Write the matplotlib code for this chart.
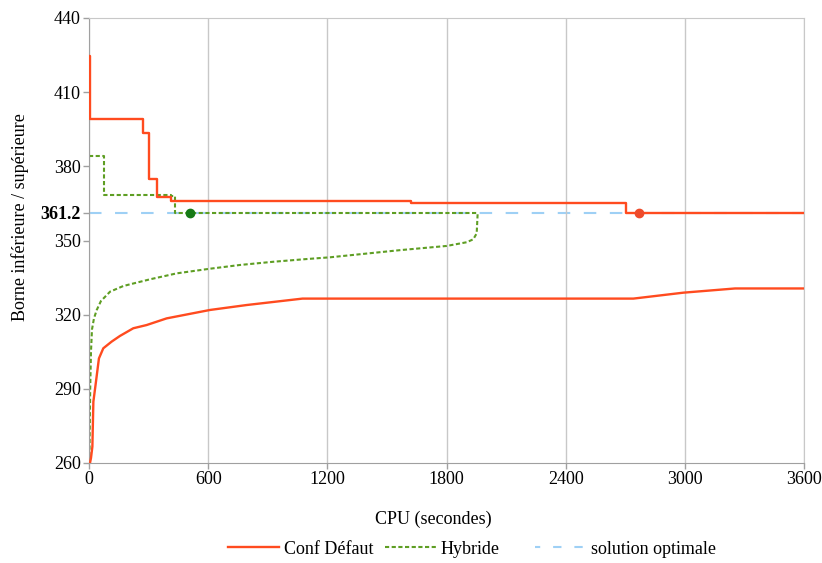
import matplotlib.pyplot as plt
from matplotlib.lines import Line2D

plt.rcParams['font.family'] = ['Liberation Serif', 'DejaVu Serif']

# ----------------------------
# DATA
# ----------------------------
OPT = 361.2

# Conf Défaut : borne supérieure (escalier) et borne inférieure
defaut_ub_t = [0, 3, 272, 302, 344, 413, 1621, 2704, 3600]
defaut_ub_v = [424.6, 399.1, 393.5, 374.9, 367.5, 365.8, 365.2, 361.2, 361.2]
defaut_lb_t = [5, 10, 17, 22, 34, 50, 72, 114, 156, 223, 290, 391, 609, 794,
               1075, 2741, 2993, 3253, 3600]
defaut_lb_v = [260, 262, 266.6, 284.8, 292.2, 302.3, 306.4, 309.1, 311.4, 314.5,
               315.8, 318.5, 321.9, 323.9, 326.5, 326.5, 328.9, 330.6, 330.6]
defaut_opt_t = 2770

# Hybride
hybride_ub_t = [0, 75, 411, 433, 1957]
hybride_ub_v = [384.3, 368.4, 368.0, 361.2, 361.2]
hybride_lb_t = [2, 6, 10, 15, 25, 39, 60, 106, 173, 307, 441, 601, 760, 928,
                1096, 1213, 1566, 1801, 1902, 1935, 1952, 1957]
hybride_lb_v = [260, 290, 305, 314, 318.5, 321.9, 325.5, 329.3, 331.6, 334.3,
                336.7, 338.5, 340.1, 341.4, 342.5, 343.2, 346.1, 347.8, 349.3,
                350.5, 352.9, 361.2]
hybride_opt_t = 508

x_ticks = [0, 600, 1200, 1800, 2400, 3000, 3600]
y_ticks = [260, 290, 320, 350, 380, 410, 440]

RED = "#FF4B1F"
GREEN = "#5E9E23"
BLUE = "#9ED0F5"

# =========================
# PLOT
# =========================
W, H = 822, 563
fig = plt.figure(figsize=(W / 100, H / 100), dpi=100)
ax = fig.add_axes([89 / W, 1 - 463 / H, 715 / W, 445 / H])

ax.plot([0, 3600], [OPT, OPT], color=BLUE, lw=1.5, dashes=(6, 6.5), zorder=1)

ax.plot(defaut_ub_t, defaut_ub_v, color=RED, lw=1.7, drawstyle="steps-post", zorder=3)
ax.plot(defaut_lb_t, defaut_lb_v, color=RED, lw=1.7, zorder=3)

ax.plot(hybride_ub_t, hybride_ub_v, color=GREEN, lw=1.5, dashes=(2, 1.2),
        drawstyle="steps-post", zorder=2)
ax.plot(hybride_lb_t, hybride_lb_v, color=GREEN, lw=1.5, dashes=(2, 1.2), zorder=2)

ax.plot([defaut_opt_t], [OPT], "o", color="#EE4B2B", ms=6, zorder=4)
ax.plot([hybride_opt_t], [OPT], "o", color="#167A16", ms=6, zorder=4)

ax.set_xlim(0, 3600)
ax.set_ylim(260, 440)
ax.set_xticks(x_ticks)
ax.set_yticks(y_ticks + [OPT])
ax.set_yticklabels([str(v) for v in y_ticks] + ["361.2"])
for lab in ax.get_yticklabels():
    if lab.get_text() == "361.2":
        lab.set_fontweight("bold")

ax.tick_params(axis="both", labelsize=13, color="#a0a0a0", length=4, width=1, pad=2)
ax.grid(axis="x", color="#c8c8c8", lw=1)
for side in ["top", "right"]:
    ax.spines[side].set_color("#c8c8c8")
for side in ["left", "bottom"]:
    ax.spines[side].set_color("#a0a0a0")

ax.set_xlabel("CPU (secondes)", fontsize=13)
ax.set_ylabel("Borne inférieure / supérieure", fontsize=13)
ax.xaxis.set_label_coords((433 - 89) / 715, (463 - 511) / 445)
ax.yaxis.set_label_coords((29 - 89) / 715, (463 - 217) / 445)

# legend: one entry per legend box so the spacing can follow the reference
legend_items = [
    (Line2D([], [], color=RED, lw=1.7), "Conf Défaut", 228),
    (Line2D([], [], color=GREEN, lw=1.5, dashes=(2, 1.2)), "Hybride", 385),
    (Line2D([], [], color=BLUE, lw=1.5, linestyle=(1.5, (4, 6.2))),
     "solution optimale", 535),
]
for handle, label, x_px in legend_items:
    fig.legend([handle], [label], loc="center left",
               bbox_to_anchor=(x_px / W, 1 - 549 / H), frameon=False,
               fontsize=13, handlelength=2.8, handletextpad=0.3,
               borderpad=0, borderaxespad=0)

plt.savefig("out.png", dpi=100)
